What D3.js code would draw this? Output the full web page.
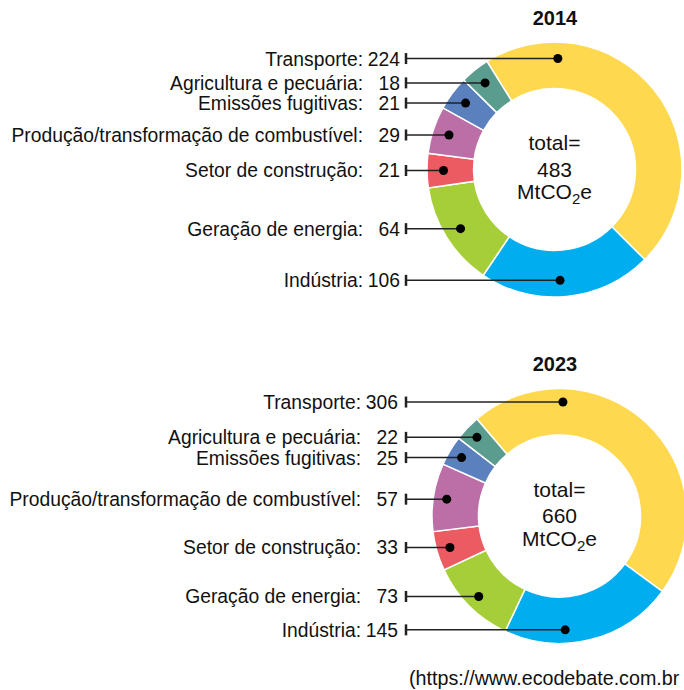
<!DOCTYPE html>
<html>
<head>
<meta charset="utf-8">
<script src="https://cdn.jsdelivr.net/npm/d3@7"></script>
<style>
  body { margin: 0; background: #fff; }
  svg { display: block; font-family: "Liberation Sans", Arial, sans-serif; }
</style>
</head>
<body>
<svg width="684" height="690"></svg>
<script>
// Data (MtCO2e), clockwise from Transporte
var categories = ['Transporte', 'Indústria', 'Geração de energia', 'Setor de construção',
    'Produção/transformação de combustível', 'Emissões fugitivas', 'Agricultura e pecuária'];
var values2014 = [224, 106, 64, 21, 29, 21, 18];
var values2023 = [306, 145, 73, 33, 57, 25, 22];
var years = ['2014', '2023'];
var totals = [483, 660];
var colors = ['#FED84F', '#00AEEF', '#A6CE39', '#EC5A62', '#BC6FA6', '#5A80BE', '#5A9D8F'];

var svg = d3.select('svg');

// layout of each donut
var charts = [
    {year: years[0], values: values2014, total: totals[0], cx: 554.5, cy: 169.5, start: -32, titleY: 25, numX: 400, labX: 363, dotR: 111},
    {year: years[1], values: values2023, total: totals[1], cx: 559.5, cy: 516, start: -40.4, titleY: 371, numX: 398, labX: 361, dotR: 114}
];

var outerR = 127.5, innerR = 81, tickX = 406;
var rad = Math.PI / 180;

var arc = d3.arc().innerRadius(innerR).outerRadius(outerR);

charts.forEach(function(c) {
    var pie = d3.pie().sort(null)
        .startAngle(c.start * rad)
        .endAngle(c.start * rad + 2 * Math.PI);
    var slices = pie(c.values);
    var dotArc = d3.arc().innerRadius(c.dotR).outerRadius(c.dotR);

    var g = svg.append('g')
        .attr('transform', 'translate(' + [c.cx, c.cy] + ')');

    g.selectAll('.slice')
        .data(slices)
        .enter().append('path')
        .attr('class', 'slice')
        .attr('d', arc)
        .attr('fill', function(d, i) { return colors[i]; })
        .attr('stroke', '#fff')
        .attr('stroke-width', 1.5);

    // dot position: slice centroid, or the top/bottom point when the slice spans it
    function dotPos(d) {
        var a0 = d.startAngle, a1 = d.endAngle, m;
        if (a0 < 0 && a1 > 0) m = 0.03;
        else if (a0 < Math.PI && a1 > Math.PI) m = Math.PI - 0.05;
        else m = (a0 + a1) / 2;
        return dotArc.centroid({startAngle: m, endAngle: m});
    }

    var lab = svg.append('g');
    slices.forEach(function(d, i) {
        var p = dotPos(d);
        var x = c.cx + p[0], y = c.cy + p[1];
        lab.append('line')
            .attr('x1', tickX).attr('x2', x)
            .attr('y1', y).attr('y2', y)
            .attr('stroke', '#222').attr('stroke-width', 1.5);
        lab.append('line')
            .attr('x1', tickX).attr('x2', tickX)
            .attr('y1', y - 5.5).attr('y2', y + 5.5)
            .attr('stroke', '#222').attr('stroke-width', 2.5);
        lab.append('circle')
            .attr('cx', x).attr('cy', y).attr('r', 4.5)
            .attr('fill', '#000');
        lab.append('text')
            .attr('x', c.labX).attr('y', y + 7)
            .attr('text-anchor', 'end')
            .style('font-size', '19.3px')
            .attr('fill', '#111')
            .text(categories[i] + ':');
        lab.append('text')
            .attr('x', c.numX).attr('y', y + 7)
            .attr('text-anchor', 'end')
            .style('font-size', '19.3px')
            .attr('fill', '#111')
            .text(c.values[i]);
    });

    // title
    svg.append('text')
        .attr('x', 555).attr('y', c.titleY)
        .attr('text-anchor', 'middle')
        .style('font-size', '20px').style('font-weight', 'bold')
        .attr('fill', '#111')
        .text(c.year);

    // centre text
    var ct = g.append('g').attr('fill', '#111').style('font-size', '21px');
    ct.append('text').attr('y', -19.5).attr('text-anchor', 'middle').text('total=');
    ct.append('text').attr('y', 7).attr('text-anchor', 'middle').text(c.total);
    var t3 = ct.append('text').attr('y', 29.5).attr('text-anchor', 'middle');
    t3.append('tspan').text('MtCO');
    t3.append('tspan').attr('dy', 5).style('font-size', '15px').text('2');
    t3.append('tspan').attr('dy', -5).text('e');
});

// source line (as shown in the reference, closing bracket falls off the edge)
svg.append('text')
    .attr('x', 409).attr('y', 685)
    .style('font-size', '19.7px')
    .attr('fill', '#111')
    .text('(https://www.ecodebate.com.br');
</script>
</body>
</html>
